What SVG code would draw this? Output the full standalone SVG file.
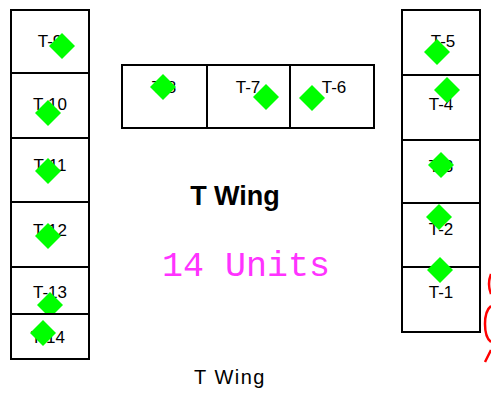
<svg xmlns="http://www.w3.org/2000/svg" xmlns:xlink="http://www.w3.org/1999/xlink" width="491" height="396" viewBox="0 0 491 396">
<style>
.c{fill:#fff;stroke:#000;stroke-width:2}
.l{font-family:"Liberation Sans",Arial,sans-serif;font-size:17px;fill:#000;text-anchor:middle}
.d{fill:#00ff00}
</style>
<defs><path id="dm" d="M0 -13 L13 0 L0 13 L-13 0Z"/></defs>
<rect width="491" height="396" fill="#fff"/>
<g id="T-9"><rect class="c" x="11" y="10" width="78" height="63"/><text class="l" x="50" y="47">T-9</text><use class="d" xlink:href="#dm" x="62" y="46"/></g>
<g id="T-10"><rect class="c" x="11" y="73" width="78" height="65"/><text class="l" x="50" y="110">T-10</text><use class="d" xlink:href="#dm" x="48" y="113"/></g>
<g id="T-11"><rect class="c" x="11" y="138" width="78" height="64"/><text class="l" x="50" y="171">T-11</text><use class="d" xlink:href="#dm" x="48" y="171"/></g>
<g id="T-12"><rect class="c" x="11" y="202" width="78" height="65"/><text class="l" x="50" y="236">T-12</text><use class="d" xlink:href="#dm" x="48" y="236"/></g>
<g id="T-13"><rect class="c" x="11" y="267" width="78" height="47"/><text class="l" x="50" y="298">T-13</text><use class="d" xlink:href="#dm" x="50" y="305"/></g>
<g id="T-14"><rect class="c" x="11" y="314" width="78" height="45"/><text class="l" x="48" y="343">T-14</text><use class="d" xlink:href="#dm" x="43" y="333"/></g>
<g id="T-8"><rect class="c" x="122" y="65" width="85" height="63"/><text class="l" x="164" y="93">T-8</text><use class="d" xlink:href="#dm" x="163" y="87"/></g>
<g id="T-7"><rect class="c" x="207" y="65" width="83" height="63"/><text class="l" x="248" y="93">T-7</text><use class="d" xlink:href="#dm" x="266" y="97"/></g>
<g id="T-6"><rect class="c" x="290" y="65" width="84" height="63"/><text class="l" x="334" y="93">T-6</text><use class="d" xlink:href="#dm" x="312" y="98"/></g>
<g id="T-5"><rect class="c" x="402" y="10" width="78" height="65"/><text class="l" x="443" y="47">T-5</text><use class="d" xlink:href="#dm" x="437" y="52"/></g>
<g id="T-4"><rect class="c" x="402" y="75" width="78" height="65"/><text class="l" x="441" y="110">T-4</text><use class="d" xlink:href="#dm" x="447" y="90"/></g>
<g id="T-3"><rect class="c" x="402" y="140" width="78" height="63"/><text class="l" x="441" y="172">T-3</text><use class="d" xlink:href="#dm" x="441" y="165"/></g>
<g id="T-2"><rect class="c" x="402" y="203" width="78" height="64"/><text class="l" x="441" y="235">T-2</text><use class="d" xlink:href="#dm" x="439" y="217"/></g>
<g id="T-1"><rect class="c" x="402" y="267" width="78" height="65"/><text class="l" x="441" y="298">T-1</text><use class="d" xlink:href="#dm" x="440" y="270"/></g>
<g id="connectors"></g>
<text x="235" y="205" font-family="Liberation Sans,Arial,sans-serif" font-weight="bold" font-size="27" text-anchor="middle">T Wing</text>
<text x="246" y="276" font-family="Liberation Mono,Courier New,monospace" font-size="35" fill="#ff33ff" text-anchor="middle">14 Units</text>
<text x="230" y="384" font-family="Liberation Sans,Arial,sans-serif" font-size="20" letter-spacing="1.5" text-anchor="middle">T Wing</text>
<path d="M491 274 Q487 284 491 294 M491 306 C483 312 483 336 491 342 M491 350 L485 362" fill="none" stroke="#ff0000" stroke-width="2.5"/>
</svg>
